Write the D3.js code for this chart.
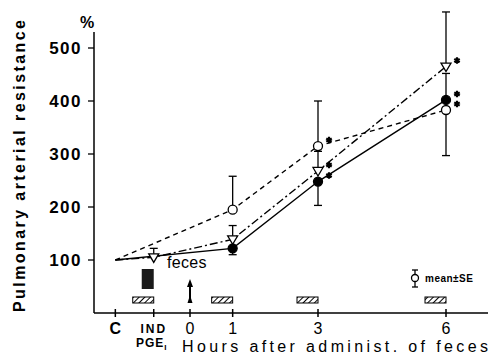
<!DOCTYPE html>
<html>
<head>
<meta charset="utf-8">
<script src="https://cdn.jsdelivr.net/npm/d3@7"></script>
<style>
    body { margin: 0; background: #fff; }
    svg { font-family: "Liberation Sans", Arial, sans-serif; }
</style>
</head>
<body>
<div id="chart"></div>
<script>
// x categories and their position on the hours scale
var xLabels = ["C", "IND", "0", "1", "3", "6"];
var xHours = [-1.75, -0.85, 0, 1, 3, 6];
var yTicks = [100, 200, 300, 400, 500];

// open circles, dashed
var openHours = [-1.75, 1, 3, 6];
var openValues = [100, 195, 315, 383];
var openErr = [null, 258, 400, 297];
var openStar = [false, false, true, true];

// filled circles, solid
var filledHours = [-1.75, 1, 3, 6];
var filledValues = [100, 122, 248, 402];
var filledErr = [null, 110, 203, 452];
var filledStar = [false, false, true, true];

// triangles, dash-dot
var triHours = [-1.75, -0.85, 1, 3, 6];
var triValues = [100, 105, 139, 268, 465];
var triErr = [null, 122, 165, 305, 568];
var triStar = [false, false, false, true, true];

// infusion bars
var hatchHours = [-0.85, 1, 3, 6];

var svg = d3.select("#chart")
    .append("svg")
    .attr("width", 489)
    .attr("height", 357);

var x = d3.scaleLinear().domain([0, 6]).range([190, 446]);
var y = d3.scaleLinear().domain([0, 500]).range([313, 48]);

var defs = svg.append("defs");
var pat = defs.append("pattern")
    .attr("id", "hatch")
    .attr("patternUnits", "userSpaceOnUse")
    .attr("width", 4)
    .attr("height", 4)
    .attr("patternTransform", "rotate(45)");
pat.append("line")
    .attr("x1", 0).attr("y1", 0)
    .attr("x2", 0).attr("y2", 4)
    .style("stroke", "#000")
    .style("stroke-width", 2);

// axes
svg.append("line")
    .attr("x1", 94).attr("y1", 32)
    .attr("x2", 94).attr("y2", y(0))
    .style("stroke", "#000").style("stroke-width", 1.5);
svg.append("line")
    .attr("x1", 94).attr("y1", y(0))
    .attr("x2", 488).attr("y2", y(0))
    .style("stroke", "#000").style("stroke-width", 1.3);

svg.append("g").selectAll("line")
    .data(yTicks)
    .enter().append("line")
    .attr("x1", 88).attr("x2", 94)
    .attr("y1", function (d) { return y(d); })
    .attr("y2", function (d) { return y(d); })
    .style("stroke", "#000").style("stroke-width", 1.3);

svg.append("g").selectAll("text")
    .data(yTicks)
    .enter().append("text")
    .attr("x", 82)
    .attr("y", function (d) { return y(d) + 6; })
    .attr("text-anchor", "end")
    .style("font-size", "17px")
    .style("font-weight", "bold")
    .style("letter-spacing", "1.5px")
    .text(function (d) { return d; });

svg.append("text")
    .attr("x", 80).attr("y", 28)
    .style("font-size", "16px")
    .style("font-weight", "bold")
    .text("%");

svg.append("text")
    .attr("transform", "translate(25,312) rotate(-90)")
    .attr("textLength", 292)
    .attr("lengthAdjust", "spacing")
    .style("font-size", "16px")
    .style("font-weight", "bold")
    .text("Pulmonary arterial resistance");

svg.append("g").selectAll("line")
    .data(xHours)
    .enter().append("line")
    .attr("x1", function (d) { return x(d); })
    .attr("x2", function (d) { return x(d); })
    .attr("y1", y(0) - 4).attr("y2", y(0) + 4)
    .style("stroke", "#000").style("stroke-width", 1.5);

svg.append("g").selectAll("text")
    .data(xLabels)
    .enter().append("text")
    .attr("x", function (d, i) { return x(xHours[i]); })
    .attr("y", function (d) { return d == "IND" ? 333 : 334; })
    .attr("text-anchor", "middle")
    .style("font-size", function (d) { return d == "IND" ? "12px" : "16px"; })
    .style("font-weight", function (d) { return (d == "C" || d == "IND") ? "bold" : "normal"; })
    .style("letter-spacing", function (d) { return d == "IND" ? "2px" : "0px"; })
    .text(function (d) { return d; });

var pge = svg.append("text")
    .attr("x", x(-0.85) - 2).attr("y", 347)
    .attr("text-anchor", "middle")
    .style("font-size", "12px")
    .style("font-weight", "bold")
    .style("letter-spacing", "1px");
pge.append("tspan").text("PGE");
pge.append("tspan").attr("dy", 3).style("font-size", "8px").text("I");

svg.append("text")
    .attr("x", 182).attr("y", 352)
    .attr("textLength", 306)
    .attr("lengthAdjust", "spacing")
    .style("font-size", "16px")
    .text("Hours after administ. of feces");

// infusion markers
svg.append("g").selectAll("rect")
    .data(hatchHours)
    .enter().append("rect")
    .attr("x", function (d) { return x(d) - 21; })
    .attr("y", 297)
    .attr("width", 21)
    .attr("height", 6)
    .style("fill", "url(#hatch)")
    .style("stroke", "#000")
    .style("stroke-width", 1);

svg.append("rect")
    .attr("x", x(-0.85) - 12).attr("y", 269)
    .attr("width", 12).attr("height", 20)
    .style("fill", "#1a1a1a");

// feces arrow
svg.append("line")
    .attr("x1", x(0)).attr("x2", x(0))
    .attr("y1", 303).attr("y2", 284)
    .style("stroke", "#000").style("stroke-width", 2);
svg.append("path")
    .attr("d", "M" + (x(0) - 3) + ",287L" + x(0) + ",279L" + (x(0) + 3) + ",287Z")
    .style("fill", "#000");
svg.append("path")
    .attr("d", "M" + (x(0) - 2.5) + ",303L" + x(0) + ",295L" + (x(0) + 2.5) + ",303Z")
    .style("fill", "#000");

svg.append("text")
    .attr("x", 167).attr("y", 268)
    .style("font-size", "16px")
    .style("letter-spacing", "0.3px")
    .text("feces");

// series
function makeSeries(hours, values, err) {
    return hours.map(function (h, i) {
        return { h: h, v: values[i], e: err[i] };
    });
}
var series = [
    { data: makeSeries(openHours, openValues, openErr), star: openStar, dash: "5,4", mark: "open" },
    { data: makeSeries(triHours, triValues, triErr), star: triStar, dash: "8,3,2,3", mark: "tri" },
    { data: makeSeries(filledHours, filledValues, filledErr), star: filledStar, dash: null, mark: "filled" }
];

var line = d3.line()
    .x(function (d) { return x(d.h); })
    .y(function (d) { return y(d.v); });

series.forEach(function (s) {
    svg.append("path")
        .datum(s.data)
        .attr("d", line)
        .style("fill", "none")
        .style("stroke", "#000")
        .style("stroke-width", 1.4)
        .style("stroke-dasharray", s.dash);
});

series.forEach(function (s) {
    var g = svg.append("g");
    var withErr = s.data.filter(function (d) { return d.e != null; });
    g.selectAll("line.bar")
        .data(withErr)
        .enter().append("line")
        .attr("x1", function (d) { return x(d.h); })
        .attr("x2", function (d) { return x(d.h); })
        .attr("y1", function (d) { return y(d.v); })
        .attr("y2", function (d) { return y(d.e); })
        .style("stroke", "#000").style("stroke-width", 1.3);
    g.selectAll("line.cap")
        .data(withErr)
        .enter().append("line")
        .attr("x1", function (d) { return x(d.h) - 4; })
        .attr("x2", function (d) { return x(d.h) + 4; })
        .attr("y1", function (d) { return y(d.e); })
        .attr("y2", function (d) { return y(d.e); })
        .style("stroke", "#000").style("stroke-width", 1.3);

    var pts = s.data.filter(function (d) { return d.h > -1.5; });
    if (s.mark == "tri") {
        g.selectAll("path.m")
            .data(pts)
            .enter().append("path")
            .attr("d", function (d) {
                var cx = x(d.h), cy = y(d.v);
                return "M" + (cx - 5) + "," + (cy - 3.5) + "L" + (cx + 5) + "," + (cy - 3.5) + "L" + cx + "," + (cy + 5) + "Z";
            })
            .style("fill", "#fff").style("stroke", "#000").style("stroke-width", 1.3);
    } else {
        g.selectAll("circle")
            .data(pts)
            .enter().append("circle")
            .attr("cx", function (d) { return x(d.h); })
            .attr("cy", function (d) { return y(d.v); })
            .attr("r", 4.5)
            .style("fill", s.mark == "open" ? "#fff" : "#000")
            .style("stroke", "#000").style("stroke-width", 1.3);
    }

    g.selectAll("path.star")
        .data(s.data.filter(function (d, i) { return s.star[i]; }))
        .enter().append("path")
        .attr("transform", function (d) {
            return "translate(" + (x(d.h) + 11) + "," + (y(d.v) - 6) + ")";
        })
        .attr("d", d3.symbol().type(d3.symbolAsterisk).size(28))
        .style("stroke", "#000").style("stroke-width", 2.2);
});

// legend
var lg = svg.append("g");
lg.append("line")
    .attr("x1", 415).attr("x2", 415).attr("y1", 270).attr("y2", 287)
    .style("stroke", "#000").style("stroke-width", 1.3);
lg.selectAll("line.cap")
    .data([270, 287])
    .enter().append("line")
    .attr("x1", 412).attr("x2", 418)
    .attr("y1", function (d) { return d; })
    .attr("y2", function (d) { return d; })
    .style("stroke", "#000").style("stroke-width", 1.3);
lg.append("circle")
    .attr("cx", 415).attr("cy", 278).attr("r", 3.5)
    .style("fill", "#fff").style("stroke", "#000").style("stroke-width", 1.3);
lg.append("text")
    .attr("x", 425).attr("y", 282)
    .style("font-size", "10px")
    .style("font-weight", "bold")
    .style("letter-spacing", "0.5px")
    .text("mean\u00b1SE");
</script>
</body>
</html>
